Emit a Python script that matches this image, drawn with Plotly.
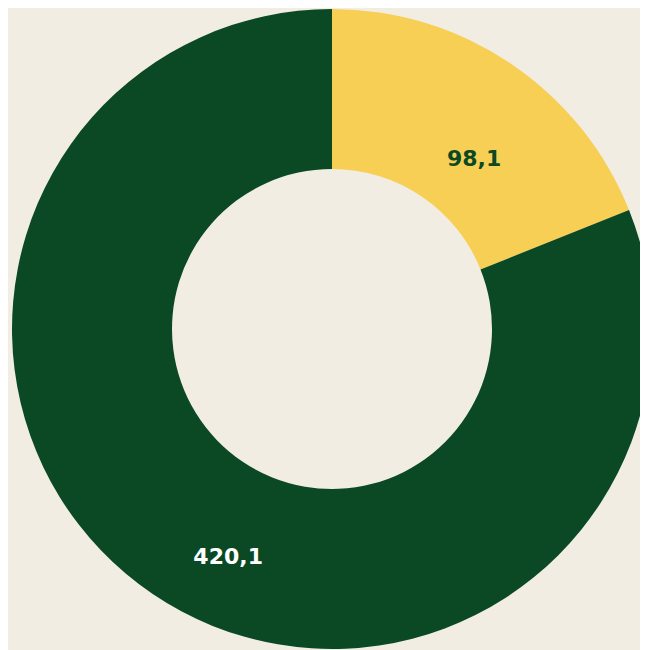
import plotly.graph_objects as go

categories = ["A", "B"]
values = [98.1, 420.1]
colors = ["#f8cf55", "#0a4923"]
text_colors = ["#0a4923", "#ffffff"]

W, H = 656, 650

pad = "&nbsp;<br>&nbsp;<br>"
fig = go.Figure(go.Pie(
    labels=categories,
    values=values,
    hole=0.5,
    sort=False,
    direction="clockwise",
    rotation=0,
    marker=dict(colors=colors, line=dict(width=0)),
    texttemplate=[pad + "&nbsp;&nbsp;%{value:.1f}",
                  pad + "&nbsp;&nbsp;&nbsp;&nbsp;&nbsp;&nbsp;&nbsp;&nbsp;%{value:.1f}"],
    textposition="inside",
    insidetextorientation="horizontal",
    textfont=dict(family="DejaVu Sans", size=22, weight="bold", color=text_colors),
    showlegend=False,
    hoverinfo="skip",
    domain=dict(x=[4/W, 644/W], y=[9/H, 649/H]),
))

fig.update_layout(
    width=W, height=H,
    margin=dict(l=0, r=0, t=0, b=0),
    paper_bgcolor="#f1ede3",
    plot_bgcolor="#f1ede3",
    separators=", ",
)

fig.write_html("out.html")
